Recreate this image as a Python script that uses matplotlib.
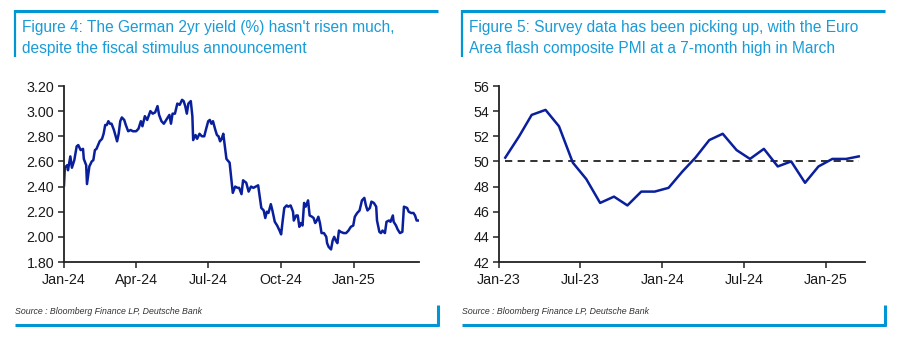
import matplotlib
matplotlib.use("Agg")
import matplotlib.pyplot as plt
import numpy as np
import pandas as pd

# ---------------- data ----------------
# Figure 4: German 2yr yield (%), days since 2024-01-01
yield_days = [0, 1, 4, 5, 8, 10, 13, 16, 18, 21, 24, 25, 28, 29, 32, 35, 37, 39, 41, 43,
              45, 48, 50, 52, 54, 56, 58, 60, 63, 67, 69, 71, 73, 76, 78, 81, 84, 87, 91, 94,
              97, 99, 102, 105, 109, 112, 115, 118, 120, 123, 126, 130, 133, 135, 137, 140, 143, 146, 149, 151,
              153, 155, 157, 160, 162, 163, 166, 168, 171, 174, 177, 179, 182, 184, 186, 188, 191, 193, 195, 197,
              199, 201, 203, 205, 209, 210, 213, 216, 219, 221, 224, 226, 230, 233, 236, 239, 242, 245, 247, 249,
              252, 254, 256, 258, 261, 263, 266, 269, 272, 274, 276, 278, 281, 283, 286, 289, 290, 293, 295, 297,
              299, 301, 303, 305, 308, 310, 313, 315, 317, 319, 321, 323, 325, 328, 331, 332, 334, 337, 339, 341,
              343, 345, 347, 349, 353, 356, 359, 362, 365, 367, 370, 373, 376, 379, 381, 383, 386, 388, 391, 394,
              395, 398, 400, 402, 405, 407, 410, 412, 415, 416, 419, 421, 424, 427, 429, 433, 435, 438, 441, 443,
              445, 448]
yield_vals = [2.41, 2.55, 2.57, 2.53, 2.64, 2.55, 2.61, 2.72, 2.73, 2.69, 2.70, 2.62, 2.57, 2.42, 2.56, 2.60, 2.61, 2.69, 2.70, 2.73,
              2.76, 2.78, 2.82, 2.89, 2.89, 2.92, 2.90, 2.90, 2.85, 2.76, 2.82, 2.92, 2.95, 2.93, 2.89, 2.84, 2.85, 2.84, 2.84, 2.86,
              2.92, 2.88, 2.96, 2.93, 3.00, 2.98, 2.99, 3.04, 2.97, 2.92, 2.90, 2.94, 2.97, 2.90, 2.98, 2.98, 3.06, 3.05, 3.09, 3.08,
              3.04, 2.98, 3.06, 3.08, 2.96, 2.77, 2.81, 2.78, 2.82, 2.80, 2.80, 2.85, 2.92, 2.93, 2.90, 2.92, 2.85, 2.81, 2.80, 2.76,
              2.78, 2.82, 2.72, 2.62, 2.59, 2.53, 2.35, 2.40, 2.39, 2.39, 2.34, 2.45, 2.43, 2.36, 2.40, 2.39, 2.40, 2.41, 2.32, 2.23,
              2.21, 2.15, 2.20, 2.19, 2.26, 2.21, 2.12, 2.09, 2.05, 2.02, 2.13, 2.23, 2.25, 2.24, 2.25, 2.20, 2.13, 2.17, 2.17, 2.08,
              2.11, 2.09, 2.27, 2.24, 2.29, 2.17, 2.16, 2.15, 2.11, 2.13, 2.16, 2.11, 2.03, 2.03, 2.00, 1.95, 1.92, 1.90, 1.97, 2.00,
              1.97, 1.95, 2.05, 2.04, 2.03, 2.03, 2.05, 2.08, 2.09, 2.16, 2.19, 2.21, 2.29, 2.31, 2.25, 2.21, 2.23, 2.28, 2.27, 2.24,
              2.13, 2.04, 2.03, 2.05, 2.03, 2.12, 2.13, 2.12, 2.17, 2.12, 2.09, 2.06, 2.03, 2.04, 2.24, 2.23, 2.20, 2.19, 2.19, 2.17,
              2.13, 2.13]
yield_ticks = ["2024-01-01", "2024-04-01", "2024-07-01", "2024-10-01", "2025-01-01"]
yield_ticklabels = ["Jan-24", "Apr-24", "Jul-24", "Oct-24", "Jan-25"]
yield_yticks = [1.80, 2.00, 2.20, 2.40, 2.60, 2.80, 3.00, 3.20]

# Figure 5: Euro Area flash composite PMI, monthly Jan-23 .. Mar-25
pmi_months = pd.date_range("2023-01-01", "2025-03-01", freq="MS")
pmi_vals = [50.3, 52.0, 53.7, 54.1, 52.8, 49.9, 48.6, 46.7, 47.2, 46.5, 47.6, 47.6,
            47.9, 49.2, 50.3, 51.7, 52.2, 50.9, 50.2, 51.0, 49.6, 50.0, 48.3, 49.6,
            50.2, 50.2, 50.4]
pmi_ticks = ["2023-01-01", "2023-07-01", "2024-01-01", "2024-07-01", "2025-01-01"]
pmi_ticklabels = ["Jan-23", "Jul-23", "Jan-24", "Jul-24", "Jan-25"]
pmi_yticks = [42, 44, 46, 48, 50, 52, 54, 56]
pmi_ref = 50

title4 = ["Figure 4: The German 2yr yield (%) hasn't risen much,",
          "despite the fiscal stimulus announcement"]
title5 = ["Figure 5: Survey data has been picking up, with the Euro",
          "Area flash composite PMI at a 7-month high in March"]
source = "Source : Bloomberg Finance LP, Deutsche Bank"

# ---------------- style ----------------
W, H = 897, 341
BLUE = "#1a9bd7"
LINE = "#0a1f9c"
TXT = "#1a1a1a"
plt.rcParams["font.family"] = ["Liberation Sans", "DejaVu Sans"]

fig = plt.figure(figsize=(W / 100, H / 100), dpi=100)


def px_axes(x0, y0, x1, y1):
    return fig.add_axes([x0 / W, 1 - y1 / H, (x1 - x0) / W, (y1 - y0) / H])


def fy(y):
    return 1 - y / H


def frame(x0, x1, title):
    tf = fig.transFigure
    fig.add_artist(plt.Line2D([x0 / W, x1 / W], [fy(11), fy(11)], color="#0096d6", lw=2.2, transform=tf, solid_capstyle="butt"))
    fig.add_artist(plt.Line2D([x0 / W, x0 / W], [fy(10), fy(57)], color="#0096d6", lw=1.6, transform=tf, solid_capstyle="butt"))
    fig.add_artist(plt.Line2D([x0 / W, (x1 + 1) / W], [fy(325), fy(325)], color="#0096d6", lw=2.2, transform=tf, solid_capstyle="butt"))
    fig.add_artist(plt.Line2D([x1 / W, x1 / W], [fy(305), fy(326)], color="#0096d6", lw=2.2, transform=tf, solid_capstyle="butt"))
    for i, line in enumerate(title):
        fig.text((x0 + 7) / W, fy(32 + 21 * i), line, color=BLUE, fontsize=11.2, va="baseline", ha="left")
    fig.text(x0 / W, fy(311), source, color="#333333", fontsize=6.3, style="italic", va="center", ha="left")


def style_axes(ax):
    for s in ["top", "right"]:
        ax.spines[s].set_visible(False)
    for s in ["left", "bottom"]:
        ax.spines[s].set_color("#222222")
        ax.spines[s].set_linewidth(1.3)
    ax.tick_params(axis="both", colors="#222222", labelcolor=TXT, labelsize=10.3, width=1.1, length=4, direction="out")
    ax.tick_params(axis="x", pad=4)
    ax.tick_params(axis="y", pad=3)
    ax.patch.set_alpha(0)


# Left chart
frame(15, 438, title4)
ax1 = px_axes(64, 86, 419, 262)
dates1 = pd.Timestamp("2024-01-01") + pd.to_timedelta(yield_days, unit="D")
ax1.plot(dates1, yield_vals, color=LINE, lw=1.8, solid_joinstyle="round")
ax1.set_xlim(pd.Timestamp("2024-01-01"), pd.Timestamp("2024-01-01") + pd.Timedelta(days=448))
ax1.set_ylim(1.80, 3.20)
ax1.set_yticks(yield_yticks)
ax1.set_yticklabels([f"{v:.2f}" for v in yield_yticks])
ax1.set_xticks(pd.to_datetime(yield_ticks))
ax1.set_xticklabels(yield_ticklabels)
style_axes(ax1)

# Right chart
frame(462, 885, title5)
ax2 = px_axes(499, 86, 865, 262)
dates2 = pmi_months + pd.Timedelta(days=14)
ax2.plot(dates2, pmi_vals, color=LINE, lw=1.8, solid_joinstyle="round", zorder=3)
ax2.plot([dates2[0], dates2[-1]], [pmi_ref, pmi_ref], color="#222222", lw=1.3, ls=(0, (4, 3)), zorder=2)
ax2.set_xlim(pd.Timestamp("2023-01-01"), pd.Timestamp("2023-01-01") + pd.Timedelta(days=818))
ax2.set_ylim(42, 56)
ax2.set_yticks(pmi_yticks)
ax2.set_xticks(pd.to_datetime(pmi_ticks))
ax2.set_xticklabels(pmi_ticklabels)
style_axes(ax2)

fig.savefig("out.png", dpi=100)
